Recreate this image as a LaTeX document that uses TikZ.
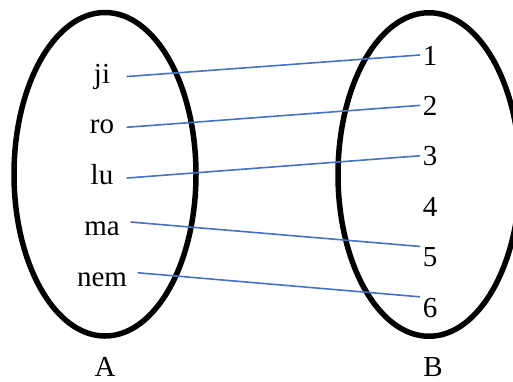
\documentclass[tikz,border=0pt]{standalone}
\usepackage{fontspec}
\setmainfont{Liberation Serif}
\definecolor{lineblue}{RGB}{68,114,196}
\begin{document}
\begin{tikzpicture}[x=1pt,y=-1pt,line join=round,line cap=round,
    every node/.style={font=\fontsize{29}{34}\selectfont,anchor=base},
    lft/.style={minimum width=50pt,inner xsep=11pt,inner ysep=0pt,text height=13pt,text depth=0pt},
    rgt/.style={inner xsep=3pt,inner ysep=0pt,text height=20pt,text depth=0pt},
    setname/.style={inner sep=0pt,text depth=0pt},
    link/.style={lineblue,line width=1.6pt}]
    \useasboundingbox (0,0) rectangle (513,381);
    % the two sets
    \draw[line width=5.5pt] (105,174.25) ellipse [x radius=91pt,y radius=161.75pt];
    \draw[line width=5.5pt] (429,174.5) ellipse [x radius=91pt,y radius=161.75pt];
    % elements of A
    \node[lft] (ji) at (102,83) {ji};
    \node[lft] (ro) at (102,133.75) {ro};
    \node[lft] (lu) at (102,184.5) {lu};
    \node[lft] (ma) at (102,235.25) {ma};
    \node[lft] (nem) at (102,286) {nem};
    % elements of B
    \node[rgt] (n1) at (430,65) {1};
    \node[rgt] (n2) at (430,115.4) {2};
    \node[rgt] (n3) at (430,165.8) {3};
    \node[rgt] (n4) at (430,216.2) {4};
    \node[rgt] (n5) at (430,266.6) {5};
    \node[rgt] (n6) at (430,317) {6};
    \node[setname] (A) at (105,376) {A};
    \node[setname] (B) at (433,376) {B};
    \draw[link] (ji.east) -- (n1.west);
    \draw[link] (ro.east) -- (n2.west);
    \draw[link] (lu.east) -- (n3.west);
    \draw[link] (ma.north east) -- (n5.north west);
    \draw[link] (nem.north east) -- (n6.north west);
\end{tikzpicture}
\end{document}
